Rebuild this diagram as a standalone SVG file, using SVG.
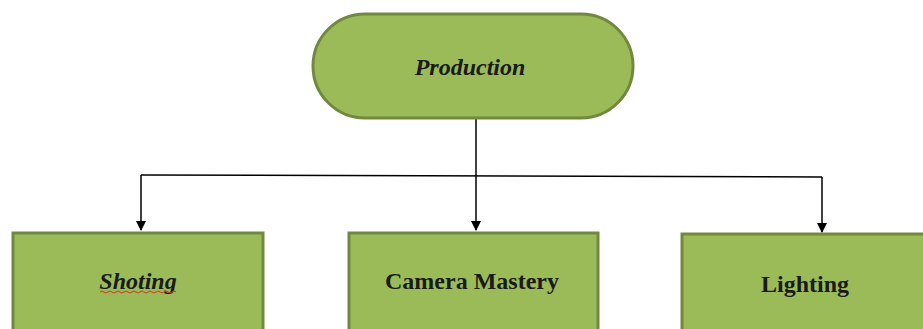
<svg xmlns="http://www.w3.org/2000/svg" width="923" height="329" viewBox="0 0 923 329">
<defs>
<style>
.node{fill:#9BBB59;stroke:#71893F;stroke-width:3}
.lbl{font-family:"Liberation Serif","Times New Roman",serif;font-size:24px;font-weight:bold;fill:#1a1a1a;text-anchor:middle}
.it{font-style:italic}
.conn{fill:none;stroke:#000;stroke-width:1.5}
</style>
<marker id="arr" markerWidth="10" markerHeight="10" refX="9" refY="5" orient="auto" markerUnits="userSpaceOnUse">
<path d="M0,0 L10,5 L0,10 z" fill="#000"/>
</marker>
</defs>
<rect width="923" height="329" fill="#fff"/>
<g id="connectors">
<path class="conn" d="M476,119 V230" marker-end="url(#arr)"/>
<path class="conn" d="M141,175 L822,177"/>
<path class="conn" d="M141,175 V230" marker-end="url(#arr)"/>
<path class="conn" d="M822,177 V232" marker-end="url(#arr)"/>
</g>
<g id="production">
<rect class="node" x="313" y="14" width="320" height="104" rx="52" ry="52"/>
<text class="lbl it" x="470" y="75">Production</text>
</g>
<g id="shoting">
<rect class="node" x="13" y="233" width="250" height="110"/>
<text class="lbl it" x="138" y="289">Shoting</text>
<path d="M100,292 q2,-2 4,0 t4,0 t4,0 t4,0 t4,0 t4,0 t4,0 t4,0 t4,0 t4,0 t4,0 t4,0 t4,0 t4,0 t4,0 t4,0 t4,0 t4,0 t4,0" fill="none" stroke="#d9301f" stroke-width="1"/>
</g>
<g id="camera">
<rect class="node" x="349" y="233" width="249" height="110"/>
<text class="lbl" x="472" y="289">Camera Mastery</text>
</g>
<g id="lighting">
<rect class="node" x="682" y="234" width="260" height="110"/>
<text class="lbl" x="805" y="292">Lighting</text>
</g>
</svg>
